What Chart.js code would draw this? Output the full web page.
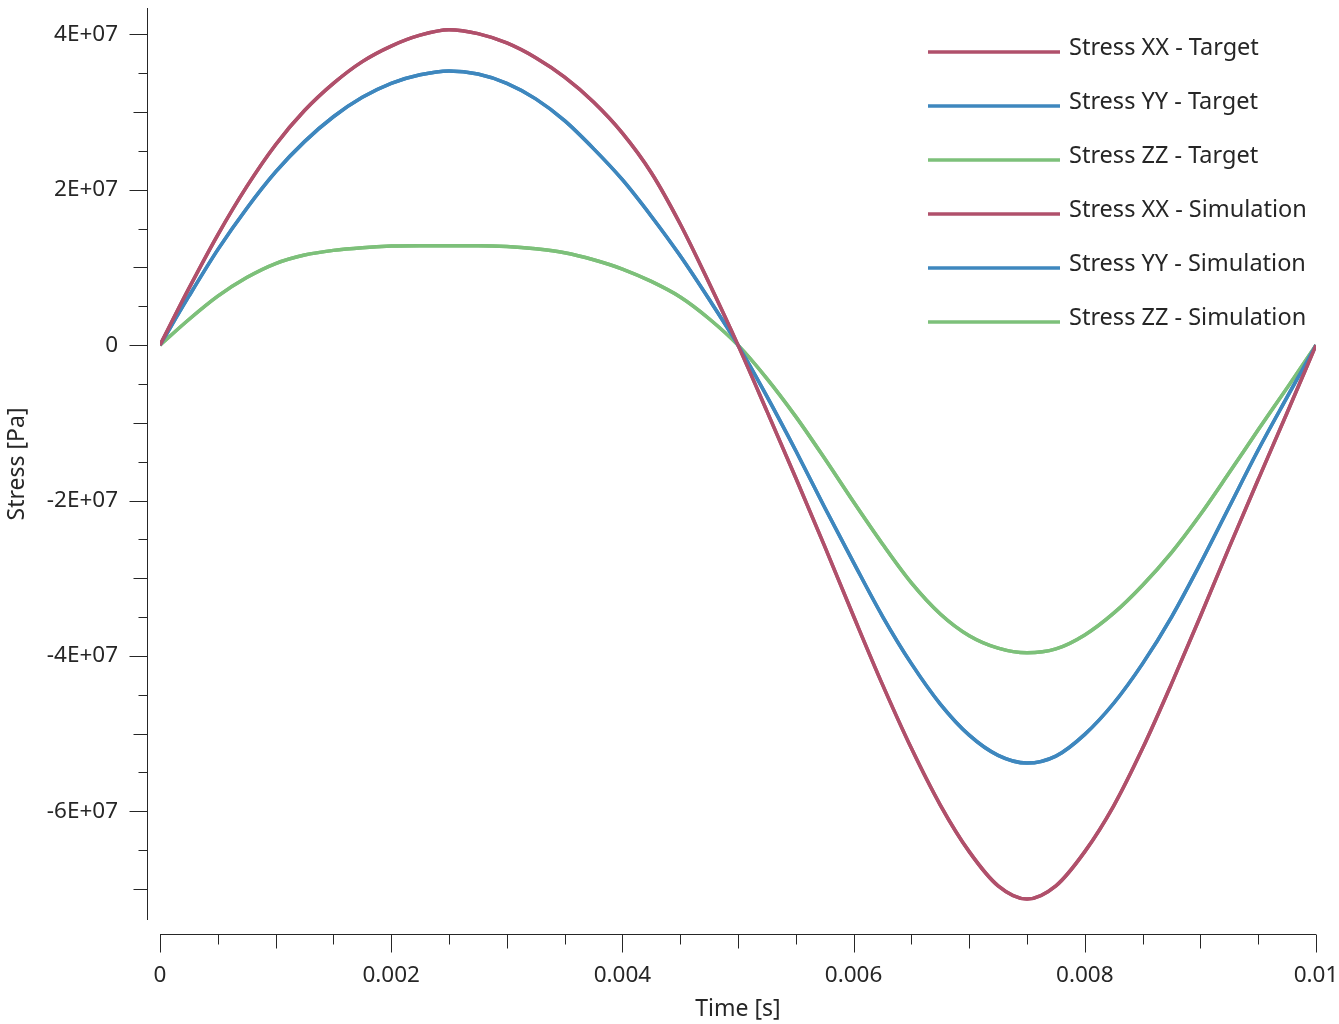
<!DOCTYPE html>
<html>
<head>
<meta charset="utf-8">
<script src="https://cdn.jsdelivr.net/npm/chart.js@4.4.0/dist/chart.umd.min.js"></script>
<style>
  html, body { margin: 0; padding: 0; background: #fff; }
</style>
</head>
<body>
<canvas id="chart" width="1339" height="1024"></canvas>
<script>
// time samples [s]
const time = [0, 0.00025, 0.0005, 0.00075, 0.001, 0.00125, 0.0015, 0.00175, 0.002, 0.00225,
  0.0025, 0.00275, 0.003, 0.00325, 0.0035, 0.00375, 0.004, 0.00425, 0.0045, 0.00475,
  0.005, 0.00525, 0.0055, 0.00575, 0.006, 0.00625, 0.0065, 0.00675, 0.007, 0.00725,
  0.0075, 0.00775, 0.008, 0.00825, 0.0085, 0.00875, 0.009, 0.00925, 0.0095, 0.00975, 0.01];

// stresses [MPa] (converted to Pa below)
const stressXXTarget = [0, 7.3, 14.2, 20.4, 25.8, 30.2, 33.7, 36.5, 38.5, 39.9,
  40.6, 40.1, 38.9, 37.0, 34.5, 31.3, 27.3, 22.2, 15.6, 8.0,
  0, -8.5, -17.1, -25.9, -34.9, -43.7, -51.9, -59.2, -65.2, -69.6,
  -71.3, -69.6, -65.2, -59.3, -51.9, -43.6, -34.9, -26.0, -17.3, -8.7, 0];
const stressYYTarget = [0, 6.3, 12.3, 17.6, 22.3, 26.2, 29.4, 31.9, 33.7, 34.8,
  35.3, 34.9, 33.7, 31.7, 28.9, 25.3, 21.3, 16.6, 11.5, 5.9,
  0, -6.6, -13.6, -20.9, -28.0, -34.9, -41.0, -46.2, -50.2, -52.8,
  -53.8, -52.9, -50.1, -46.1, -41.0, -35.0, -28.1, -20.8, -13.5, -6.7, 0];
const stressZZTarget = [0, 3.3, 6.3, 8.7, 10.5, 11.6, 12.2, 12.55, 12.75, 12.8,
  12.8, 12.8, 12.7, 12.4, 11.9, 11.0, 9.8, 8.2, 6.2, 3.4,
  0, -4.3, -9.2, -14.6, -20.2, -25.6, -30.6, -34.6, -37.4, -39.0,
  -39.6, -39.1, -37.3, -34.5, -30.9, -26.7, -21.8, -16.4, -10.9, -5.5, 0];

// simulation lies right on top of the target curves
const stressXXSim = [0, 7.3, 14.2, 20.4, 25.8, 30.2, 33.7, 36.5, 38.5, 39.9,
  40.6, 40.1, 38.9, 37.0, 34.5, 31.3, 27.3, 22.2, 15.6, 8.0,
  0, -8.5, -17.1, -25.9, -34.9, -43.7, -51.9, -59.2, -65.2, -69.6,
  -71.3, -69.6, -65.2, -59.3, -51.9, -43.6, -34.9, -26.0, -17.3, -8.7, 0];
const stressYYSim = [0, 6.3, 12.3, 17.6, 22.3, 26.2, 29.4, 31.9, 33.7, 34.8,
  35.3, 34.9, 33.7, 31.7, 28.9, 25.3, 21.3, 16.6, 11.5, 5.9,
  0, -6.6, -13.6, -20.9, -28.0, -34.9, -41.0, -46.2, -50.2, -52.8,
  -53.8, -52.9, -50.1, -46.1, -41.0, -35.0, -28.1, -20.8, -13.5, -6.7, 0];
const stressZZSim = [0, 3.3, 6.3, 8.7, 10.5, 11.6, 12.2, 12.55, 12.75, 12.8,
  12.8, 12.8, 12.7, 12.4, 11.9, 11.0, 9.8, 8.2, 6.2, 3.4,
  0, -4.3, -9.2, -14.6, -20.2, -25.6, -30.6, -34.6, -37.4, -39.0,
  -39.6, -39.1, -37.3, -34.5, -30.9, -26.7, -21.8, -16.4, -10.9, -5.5, 0];

const xTicks = [0, 0.002, 0.004, 0.006, 0.008, 0.01];
const xTickLabels = ['0', '0.002', '0.004', '0.006', '0.008', '0.01'];
const yTicks = [-6e7, -4e7, -2e7, 0, 2e7, 4e7];
const yTickLabels = ['-6E+07', '-4E+07', '-2E+07', '0', '2E+07', '4E+07'];

const RED = '#b0506b';
const BLUE = '#3e87be';
const GREEN = '#7dc07a';
const INK = '#262626';
const FONT = "'Noto Sans', 'Open Sans', sans-serif";

const toPoints = (ys) => time.map((t, i) => ({ x: t, y: ys[i] * 1e6 }));

const series = [
  { label: 'Stress XX - Target', data: stressXXTarget, color: RED },
  { label: 'Stress YY - Target', data: stressYYTarget, color: BLUE },
  { label: 'Stress ZZ - Target', data: stressZZTarget, color: GREEN },
  { label: 'Stress XX - Simulation', data: stressXXSim, color: RED },
  { label: 'Stress YY - Simulation', data: stressYYSim, color: BLUE },
  { label: 'Stress ZZ - Simulation', data: stressZZSim, color: GREEN },
];

// axis lines sit a bit away from the plot area, with 3 tick lengths
const axesPlugin = {
  id: 'detachedAxes',
  afterDraw(chart) {
    const { ctx, chartArea, scales } = chart;
    const xs = scales.x, ys = scales.y;
    ctx.save();
    ctx.strokeStyle = INK;
    ctx.lineWidth = 1;

    // y axis
    const ax = 147.5;
    ctx.beginPath();
    ctx.moveTo(ax, chartArea.top);
    ctx.lineTo(ax, chartArea.bottom);
    for (let v = -7e7; v <= 4e7; v += 5e6) {
      const p = Math.round(ys.getPixelForValue(v)) + 0.5;
      const len = v % 2e7 === 0 ? 18 : (v % 1e7 === 0 ? 14 : 9);
      ctx.moveTo(ax, p);
      ctx.lineTo(ax - len, p);
    }
    ctx.stroke();

    // x axis
    const ay = 934.5;
    ctx.beginPath();
    ctx.moveTo(chartArea.left, ay);
    ctx.lineTo(chartArea.right, ay);
    for (let i = 0; i <= 20; i++) {
      const p = Math.round(xs.getPixelForValue(i * 0.0005)) + 0.5;
      const len = i % 4 === 0 ? 18 : (i % 2 === 0 ? 14 : 10);
      ctx.moveTo(p, ay);
      ctx.lineTo(p, ay + len);
    }
    ctx.stroke();
    ctx.restore();
  }
};

// legend drawn in the top right corner of the plot
const legendPlugin = {
  id: 'cornerLegend',
  afterDraw(chart) {
    const { ctx } = chart;
    ctx.save();
    ctx.font = '23.5px ' + FONT;
    ctx.textBaseline = 'middle';
    ctx.textAlign = 'left';
    chart.data.datasets.forEach((ds, i) => {
      const y = 52 + i * 54;
      ctx.strokeStyle = ds.borderColor;
      ctx.lineWidth = 3.5;
      ctx.beginPath();
      ctx.moveTo(928, y);
      ctx.lineTo(1060, y);
      ctx.stroke();
      ctx.fillStyle = INK;
      ctx.fillText(ds.label, 1069, y - 4);
    });
    ctx.restore();
  }
};

const noPad = (scale) => {
  scale.paddingTop = 0;
  scale.paddingBottom = 0;
  scale.paddingLeft = 0;
  scale.paddingRight = 0;
};

new Chart(document.getElementById('chart'), {
  type: 'line',
  data: {
    datasets: series.map(s => ({
      label: s.label,
      data: toPoints(s.data),
      borderColor: s.color,
      backgroundColor: s.color,
      borderWidth: 3.5,
      pointRadius: 0,
      fill: false,
      cubicInterpolationMode: 'monotone',
    }))
  },
  options: {
    responsive: false,
    animation: false,
    layout: { padding: { top: 8, right: 23, left: 0, bottom: 0 } },
    plugins: {
      legend: { display: false },
      tooltip: { enabled: false },
    },
    scales: {
      x: {
        type: 'linear',
        min: 0,
        max: 0.01,
        grid: { display: false, drawTicks: false },
        border: { display: false },
        afterBuildTicks: (scale) => { scale.ticks = xTicks.map(v => ({ value: v })); },
        afterFit: (scale) => { scale.height = 104; noPad(scale); },
        ticks: {
          padding: 42,
          maxRotation: 0,
          autoSkip: false,
          color: INK,
          font: { family: FONT, size: 22.5 },
          callback: (v, i) => xTickLabels[i],
        },
        title: {
          display: true,
          text: 'Time [s]',
          color: INK,
          font: { family: FONT, size: 23 },
          padding: { top: 0, bottom: 1 },
        },
      },
      y: {
        type: 'linear',
        min: -7.4e7,
        max: 4.34e7,
        grid: { display: false, drawTicks: false },
        border: { display: false },
        afterBuildTicks: (scale) => { scale.ticks = yTicks.map(v => ({ value: v })); },
        afterFit: (scale) => { scale.width = 160; noPad(scale); },
        ticks: {
          padding: 42,
          autoSkip: false,
          color: INK,
          font: { family: FONT, size: 22.5 },
          callback: (v, i) => yTickLabels[i],
        },
        title: {
          display: true,
          text: 'Stress [Pa]',
          color: INK,
          font: { family: FONT, size: 23 },
          padding: { top: 4, bottom: 0 },
        },
      },
    },
  },
  plugins: [axesPlugin, legendPlugin],
});
</script>
</body>
</html>
